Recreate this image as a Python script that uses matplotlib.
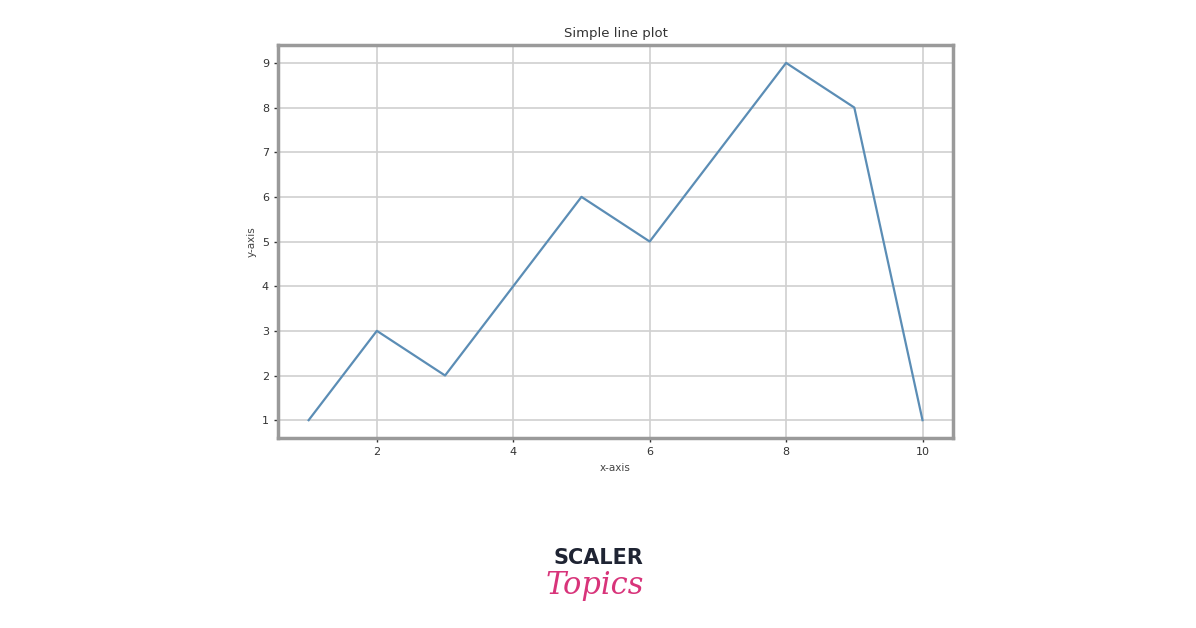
import matplotlib
matplotlib.use("Agg")
import matplotlib.pyplot as plt

x_values = [1, 2, 3, 4, 5, 6, 7, 8, 9, 10]
y_values = [1, 3, 2, 4, 6, 5, 7, 9, 8, 1]
x_ticks = [2, 4, 6, 8, 10]
y_ticks = [1, 2, 3, 4, 5, 6, 7, 8, 9]

fig = plt.figure(figsize=(11.96, 6.28), dpi=100)
ax = fig.add_axes([0.2324, 0.3025, 0.5646, 0.6258])
ax.plot(x_values, y_values, color="#5b8db5", linewidth=1.6)
ax.set_xticks(x_ticks)
ax.set_yticks(y_ticks)
ax.grid(True, color="#d0d0d0", linewidth=1.2)
for s in ax.spines.values():
    s.set_color("#9a9a9a")
    s.set_linewidth(2.5)
ax.tick_params(labelsize=8, colors="#333333", length=3, width=1)
ax.set_title("Simple line plot", fontsize=9.5, color="#333333")
ax.set_xlabel("x-axis", fontsize=7.5, color="#444444")
ax.set_ylabel("y-axis", fontsize=7.5, color="#444444")

fig.text(0.5, 0.112, "SCALER", ha="center", va="center", fontsize=15,
         fontweight="bold", color="#1f2433", family="DejaVu Sans")
fig.text(0.497, 0.067, "Topics", ha="center", va="center", fontsize=22,
         style="italic", color="#d8347a", family="DejaVu Serif")

fig.savefig("out.png", dpi=100)
